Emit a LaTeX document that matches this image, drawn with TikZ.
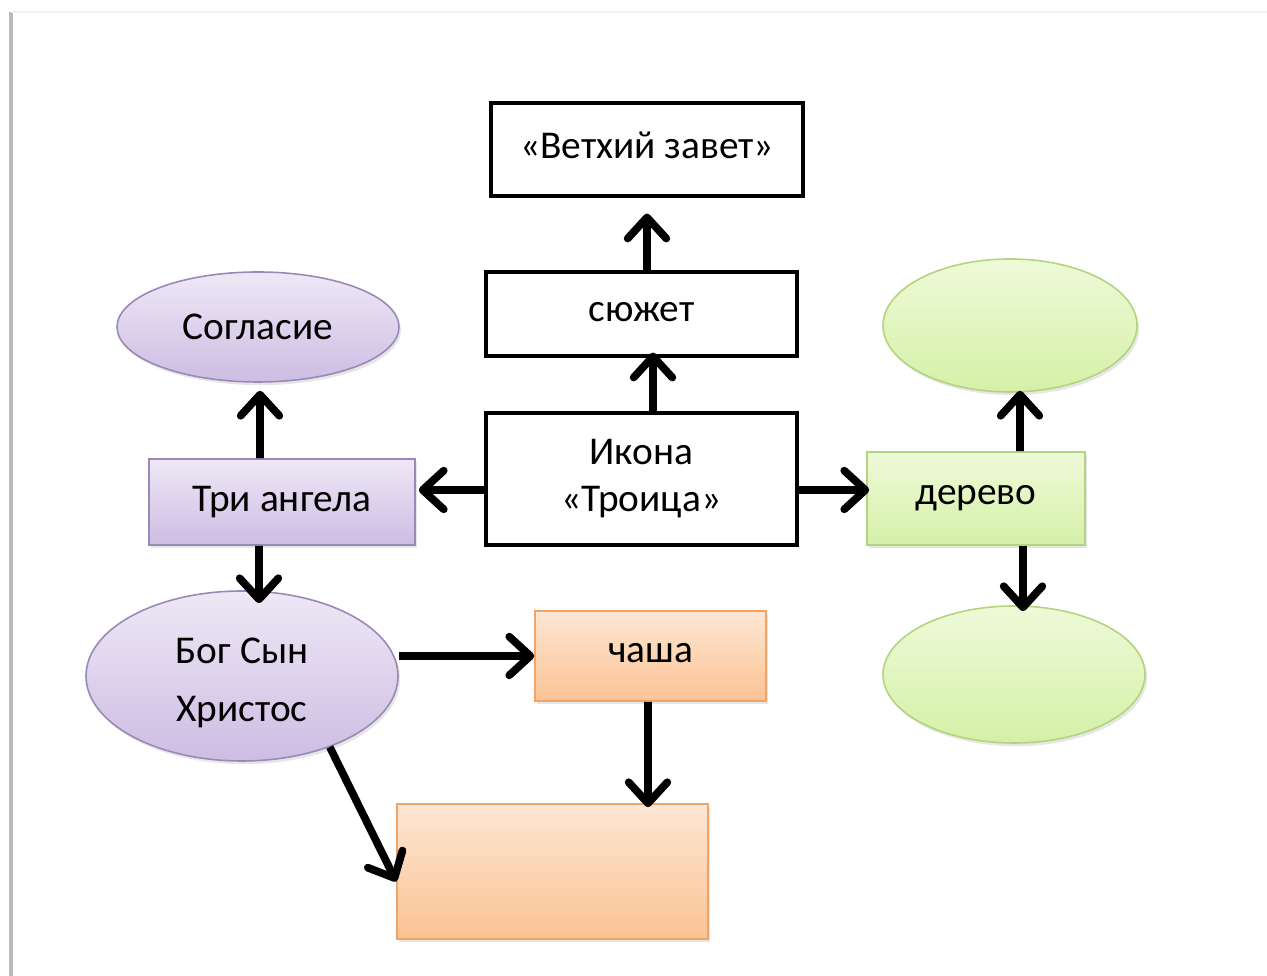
\documentclass[tikz,border=0pt]{standalone}
\usepackage{fontspec}
\setmainfont{Carlito}
\usepackage{tikz}
\usetikzlibrary{arrows.meta}
\usetikzlibrary{shadows, shadows.blur}
\usetikzlibrary{calc, positioning, shapes}
\definecolor{lilaTop}{HTML}{EEE8F6}
\definecolor{lilaBot}{HTML}{CDBDE3}
\definecolor{lilaLine}{HTML}{9A88B6}
\definecolor{orTop}{HTML}{FDE6D3}
\definecolor{orBot}{HTML}{FBC394}
\definecolor{orLine}{HTML}{F0A468}
\definecolor{grTop}{HTML}{EEFAD8}
\definecolor{grBot}{HTML}{D5F0A8}
\definecolor{grLine}{HTML}{B3D47C}
\tikzset{
    every node/.style={font=\fontsize{11.2}{13.4}\selectfont, align=center, inner sep=0pt},
    plain/.style={draw=black, line width=0.9pt, fill=white, rectangle},
    lila/.style={draw=lilaLine, line width=0.45pt, top color=lilaTop, bottom color=lilaBot,
        drop shadow={opacity=0.2, shadow xshift=0.6pt, shadow yshift=-0.9pt}},
    orng/.style={draw=orLine, line width=0.45pt, top color=orTop, bottom color=orBot, rectangle,
        drop shadow={opacity=0.2, shadow xshift=0.6pt, shadow yshift=-0.9pt}},
    grn/.style={draw=grLine, line width=0.45pt, top color=grTop, bottom color=grBot,
        drop shadow={opacity=0.2, shadow xshift=0.6pt, shadow yshift=-0.9pt}},
    arr/.style={line width=2.2pt, -{Straight Barb[length=6pt, width=11pt, line cap=round, line join=round]}}
}
\begin{document}
\begin{tikzpicture}
    \useasboundingbox (0,0) rectangle (12.67,9.76);
    % page edge
    \draw[line width=1.1pt, gray!55] (0.11,0) -- (0.11,9.64);
    \draw[line width=0.7pt, gray!10] (0.11,9.64) -- (12.67,9.64);

    \node[plain, minimum width=3.12cm, minimum height=0.93cm] (zavet) at (6.47,8.265) {\raisebox{2.2pt}{«Ветхий завет»}};
    \node[plain, minimum width=3.11cm, minimum height=0.84cm] (syuzhet) at (6.415,6.62) {\raisebox{1pt}{сюжет}};
    \node[plain, minimum width=3.11cm, minimum height=1.32cm] (ikona) at (6.415,4.97) {Икона\\«Троица»};

    \node[lila, rectangle, minimum width=2.66cm, minimum height=0.86cm] (angely) at (2.82,4.74) {Три ангела};
    \node[lila, ellipse, minimum width=2.82cm, minimum height=1.10cm] (soglasie) at (2.58,6.49) {Согласие};
    \node[lila, ellipse, minimum width=3.12cm, minimum height=1.70cm] (bog) at (2.42,3.0)
        {\raisebox{-2pt}[\height][\depth]{\parbox{1.5cm}{\centering Бог Сын\\[3.2pt]Христос}}};

    \node[orng, minimum width=2.31cm, minimum height=0.90cm] (chasha) at (6.505,3.2) {\raisebox{1.5pt}{чаша}};
    \node[orng, minimum width=3.11cm, minimum height=1.35cm] (pusto) at (5.525,1.045) {};

    \node[grn, rectangle, minimum width=2.18cm, minimum height=0.93cm] (derevo) at (9.76,4.775) {\raisebox{1pt}{дерево}};
    \node[grn, ellipse, minimum width=2.54cm, minimum height=1.33cm] (verh) at (10.10,6.505) {};
    \node[grn, ellipse, minimum width=2.62cm, minimum height=1.37cm] (niz) at (10.14,3.015) {};

    \draw[arr] (syuzhet.north -| zavet.south) -- ($(zavet.south)+(0,-0.16)$);
    \draw[arr] ($(ikona.north)+(0.115,0)$) -- ($(syuzhet.south)+(0.115,0.05)$);
    \draw[arr] ($(ikona.west)+(0,-0.11)$) -- ($(angely.east)+(0.03,0.12)$);
    \draw[arr] ($(ikona.east)+(0,-0.11)$) -- ($(derevo.west)+(0.03,0.085)$);
    \draw[arr] ($(angely.north)+(-0.22,0)$) -- ($(soglasie.south)+(0.02,-0.08)$);
    \draw[arr] ($(angely.south)+(-0.23,0)$) -- ($(bog.north)+(0.17,-0.13)$);
    \draw[arr] ($(derevo.north)+(0.44,0)$) -- ($(verh.south)+(0.10,0.02)$);
    \draw[arr] ($(derevo.south)+(0.47,0)$) -- ($(niz.north)+(0.09,-0.06)$);
    \draw[arr] (bog.east |- chasha.west) -- (chasha.west);
    \draw[arr] ($(chasha.south)+(-0.025,0)$) -- ($(pusto.north)+(0.955,-0.04)$);
    \draw[arr] (bog.-39) -- ($(pusto.west)+(0,-0.10)$);
\end{tikzpicture}
\end{document}
